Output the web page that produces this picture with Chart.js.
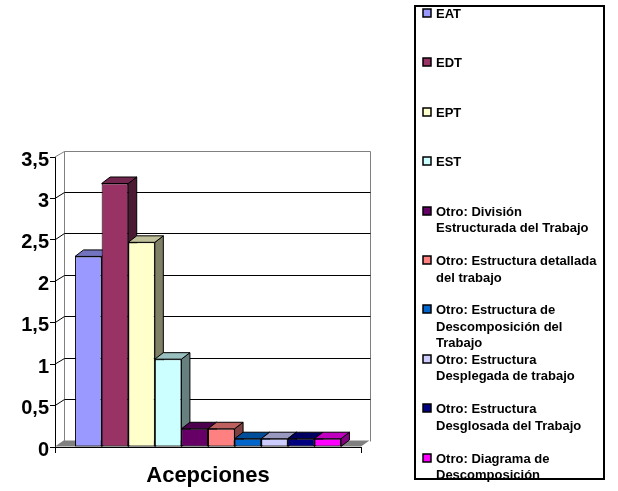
<!DOCTYPE html>
<html>
<head>
<meta charset="utf-8">
<script src="https://cdn.jsdelivr.net/npm/chart.js@4/dist/chart.umd.min.js"></script>
<style>
  html, body { margin: 0; padding: 0; background: #fff; }
  canvas { display: block; }
</style>
</head>
<body>
<canvas id="chart" width="618" height="491"></canvas>
<script>
// Data
const categories = ['Acepciones'];
const seriesNames = [
  'EAT',
  'EDT',
  'EPT',
  'EST',
  'Otro: División\nEstructurada del Trabajo',
  'Otro: Estructura detallada\ndel trabajo',
  'Otro: Estructura de\nDescomposición del\nTrabajo',
  'Otro: Estructura\nDesplegada de trabajo',
  'Otro: Estructura\nDesglosada del Trabajo',
  'Otro: Diagrama de\nDescomposición'
];
const seriesValues = [2.3, 3.18, 2.47, 1.06, 0.22, 0.22, 0.1, 0.1, 0.1, 0.1];
const seriesColors = [
  '#9999FF', '#993366', '#FFFFCC', '#CCFFFF', '#660066',
  '#FF8080', '#0066CC', '#CCCCFF', '#000080', '#FF00FF'
];
const yMin = 0, yMax = 3.5, yStep = 0.5;

const FONT = "'Liberation Sans', Arial, Helvetica, sans-serif";
const DEPTH = { dx: 8.5, dy: -6.5 };

function shade(hex, f) {
  const n = parseInt(hex.slice(1), 16);
  const r = Math.round(((n >> 16) & 255) * f);
  const g = Math.round(((n >> 8) & 255) * f);
  const b = Math.round((n & 255) * f);
  return `rgb(${r},${g},${b})`;
}

function poly(ctx, pts, fill, stroke) {
  ctx.beginPath();
  ctx.moveTo(pts[0][0], pts[0][1]);
  for (let i = 1; i < pts.length; i++) ctx.lineTo(pts[i][0], pts[i][1]);
  ctx.closePath();
  if (fill) { ctx.fillStyle = fill; ctx.fill(); }
  if (stroke) { ctx.strokeStyle = stroke; ctx.lineWidth = 1; ctx.stroke(); }
}

// Back wall, floor, gridlines and the depth faces of each column
const wall3d = {
  id: 'wall3d',
  beforeDatasetsDraw(chart) {
    const { ctx, chartArea: a, scales: { y } } = chart;
    const { dx, dy } = DEPTH;
    ctx.save();
    // floor
    poly(ctx, [
      [a.left, a.bottom - 0.5], [a.right, a.bottom - 0.5],
      [a.right + dx, a.bottom + dy], [a.left + dx, a.bottom + dy]
    ], '#808080', null);
    // wall outline
    ctx.strokeStyle = '#808080';
    ctx.lineWidth = 1;
    const bl = Math.round(a.left + dx) + 0.5;
    const br = Math.round(a.right + dx) + 0.5;
    const bt = Math.round(a.top + dy) + 0.5;
    const bb = Math.round(a.bottom + dy) + 0.5;
    ctx.beginPath();
    ctx.moveTo(a.left, a.top);
    ctx.lineTo(bl, bt);
    ctx.lineTo(br, bt);
    ctx.lineTo(br, bb);
    ctx.moveTo(bl, bt);
    ctx.lineTo(bl, bb);
    ctx.stroke();
    // gridlines along the side wall and the back wall
    ctx.strokeStyle = '#000';
    y.ticks.forEach(t => {
      if (t.value <= yMin || t.value >= yMax) return;
      const py = y.getPixelForValue(t.value);
      const by = Math.round(py + dy) + 0.5;
      ctx.beginPath();
      ctx.moveTo(a.left, py);
      ctx.lineTo(bl, by);
      ctx.lineTo(br, by);
      ctx.stroke();
    });
    // side and top faces, left to right
    chart.data.datasets.forEach((ds, i) => {
      const meta = chart.getDatasetMeta(i);
      if (meta.hidden) return;
      meta.data.forEach(bar => {
        const { x, y: top, base, width } = bar.getProps(['x', 'y', 'base', 'width'], true);
        const l = x - width / 2, r = x + width / 2;
        const c = ds.backgroundColor;
        poly(ctx, [[r, top], [r + dx, top + dy], [r + dx, base + dy], [r, base]], shade(c, 0.5), '#000');
        poly(ctx, [[l, top], [l + dx, top + dy], [r + dx, top + dy], [r, top]], shade(c, 0.75), '#000');
      });
    });
    ctx.restore();
  }
};

// Boxed legend with wrapped entries
const boxLegend = {
  id: 'boxLegend',
  afterDraw(chart) {
    const { ctx } = chart;
    const box = { left: 415, top: 6, right: 604, bottom: 479 };
    const firstY = 14, stepY = 49.4, lineH = 16.5;
    ctx.save();
    ctx.strokeStyle = '#000';
    ctx.lineWidth = 2;
    ctx.strokeRect(box.left, box.top, box.right - box.left, box.bottom - box.top);
    ctx.font = `bold 13px ${FONT}`;
    ctx.textAlign = 'left';
    ctx.textBaseline = 'middle';
    chart.data.datasets.forEach((ds, i) => {
      const cy = firstY + i * stepY;
      const my = Math.round(cy) - 1;
      ctx.fillStyle = ds.backgroundColor;
      ctx.fillRect(423, my - 4, 8, 8);
      ctx.lineWidth = 1.5;
      ctx.strokeStyle = '#000';
      ctx.strokeRect(423, my - 4, 8, 8);
      ctx.fillStyle = '#000';
      seriesNames[i].split('\n').forEach((line, k) => {
        ctx.fillText(line, 436, cy + k * lineH + 0.5);
      });
    });
    ctx.restore();
  }
};

new Chart(document.getElementById('chart'), {
  type: 'bar',
  data: {
    labels: categories,
    datasets: seriesNames.map((name, i) => ({
      label: name.replace(/\n/g, ' '),
      data: [seriesValues[i]],
      backgroundColor: seriesColors[i],
      borderColor: '#000',
      borderWidth: 1,
      borderSkipped: false
    }))
  },
  options: {
    responsive: false,
    animation: false,
    events: [],
    layout: { padding: { left: 0, right: 257, top: 157, bottom: 0 } },
    datasets: { bar: { categoryPercentage: 0.869, barPercentage: 1 } },
    plugins: { legend: { display: false }, tooltip: { enabled: false } },
    scales: {
      x: {
        grid: { display: true, drawOnChartArea: false, tickLength: 6, color: '#000', offset: true },
        border: { display: true, color: '#000', width: 1 },
        ticks: { color: '#000', padding: 10, font: { family: FONT, size: 22, weight: 'bold' } },
        afterFit(s) { s.height = 44; }
      },
      y: {
        min: yMin,
        max: yMax,
        ticks: {
          stepSize: yStep,
          color: '#000',
          padding: 1,
          labelOffset: 3,
          font: { family: FONT, size: 20, weight: 'bold' },
          callback: v => String(v).replace('.', ',')
        },
        grid: { drawOnChartArea: false, tickLength: 5, color: '#000' },
        border: { display: true, color: '#000', width: 1 },
        afterFit(s) { s.width = 55; }
      }
    }
  },
  plugins: [wall3d, boxLegend]
});
</script>
</body>
</html>
